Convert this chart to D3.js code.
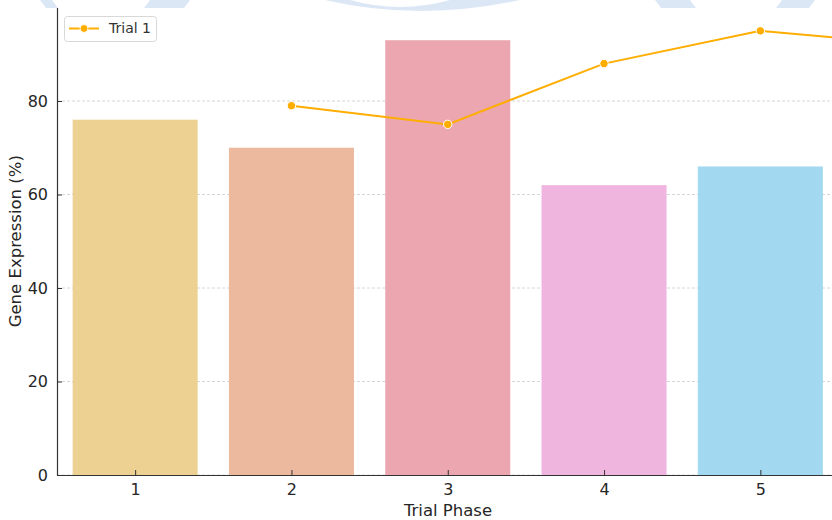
<!DOCTYPE html>
<html>
<head>
<meta charset="utf-8">
<script src="https://cdn.jsdelivr.net/npm/d3@7"></script>
<style>
  body { margin: 0; background: #fff; }
  svg { display: block; font-family: "DejaVu Sans", sans-serif; }
</style>
</head>
<body>
<script>
const WIDTH = 832;
const HEIGHT = 520;

// data
var phases = [1, 2, 3, 4, 5];
var barValues = [76, 70, 93, 62, 66];
var barColors = ['#ecd08f', '#ebb69b', '#eaa3ad', '#f0b3dd', '#a0d8ef'];
var linePhases = [2, 3, 4, 5, 6];
var lineValues = [79, 75, 88, 95, 92];
var yTicks = [0, 20, 40, 60, 80];

var svg = d3.select('body').append('svg')
    .attr('width', WIDTH)
    .attr('height', HEIGHT);

var xScale = d3.scaleLinear()
    .domain([0.5, 5.5])
    .range([57, 838.5]);
var yScale = d3.scaleLinear()
    .domain([0, 100])
    .range([475, 7.5]);

// faint watermark strip cut off at the top
var wm = svg.append('g').attr('fill', '#dce7f6');
[[40, 52], [150, 190], [655, 690], [782, 815]].forEach(function (p, i) {
    var dx = i % 2 ? -6 : 6;
    wm.append('path')
        .attr('d', 'M' + p[0] + ',0 L' + (p[1]) + ',0 L' + (p[1] + dx) + ',8 L' + (p[0] + dx) + ',8 Z');
});
wm.append('path')
    .attr('d', 'M325,0 L350,0 Q400,14 450,0 L520,0 Q420,22 325,0 Z');

// grid
svg.append('g')
    .selectAll('line')
    .data(yTicks)
    .enter()
    .append('line')
    .attr('x1', 57)
    .attr('x2', WIDTH)
    .attr('y1', function (d) { return yScale(d); })
    .attr('y2', function (d) { return yScale(d); })
    .attr('stroke', '#cccccc')
    .attr('stroke-width', 0.8)
    .attr('stroke-dasharray', '3,2');

// bars
svg.append('g')
    .selectAll('rect')
    .data(phases)
    .enter()
    .append('rect')
    .attr('x', function (d) { return xScale(d - 0.4); })
    .attr('width', xScale(0.8) - xScale(0))
    .attr('y', function (d, i) { return yScale(barValues[i]); })
    .attr('height', function (d, i) { return yScale(0) - yScale(barValues[i]); })
    .attr('fill', function (d, i) { return barColors[i]; })
    .attr('opacity', 0.97);

// axes
var xAxis = d3.axisBottom(xScale).tickValues(phases).tickFormat(d3.format('d'))
    .tickSizeInner(-5).tickSizeOuter(0).tickPadding(9);
var yAxis = d3.axisLeft(yScale).tickValues(yTicks)
    .tickSizeInner(-5).tickSizeOuter(0).tickPadding(9);

var gx = svg.append('g')
    .attr('transform', 'translate(0,' + yScale(0) + ')')
    .call(xAxis);
var gy = svg.append('g')
    .attr('transform', 'translate(57,0)')
    .call(yAxis);
[gx, gy].forEach(function (g) {
    g.select('.domain').attr('stroke', '#333').attr('stroke-width', 1.2);
    g.selectAll('.tick line').attr('stroke', '#333');
    g.selectAll('text').attr('font-size', 16).attr('fill', '#262626')
        .attr('font-family', '"DejaVu Sans", sans-serif');
});

// line series
var line = d3.line()
    .x(function (d, i) { return xScale(linePhases[i]); })
    .y(function (d) { return yScale(d); });

svg.append('path')
    .attr('d', line(lineValues))
    .attr('fill', 'none')
    .attr('stroke', '#ffad00')
    .attr('stroke-width', 2);

svg.append('g')
    .selectAll('circle')
    .data(lineValues)
    .enter()
    .append('circle')
    .attr('cx', function (d, i) { return xScale(linePhases[i]); })
    .attr('cy', function (d) { return yScale(d); })
    .attr('r', 4.2)
    .attr('fill', '#ffad00')
    .attr('stroke', '#fff')
    .attr('stroke-width', 1);

// axis titles
svg.append('text')
    .attr('x', 448)
    .attr('y', 516)
    .attr('text-anchor', 'middle')
    .attr('font-size', 16.5)
    .attr('fill', '#262626')
    .text('Trial Phase');

svg.append('text')
    .attr('transform', 'translate(21,' + yScale(50) + ') rotate(-90)')
    .attr('text-anchor', 'middle')
    .attr('font-size', 16.5)
    .attr('fill', '#262626')
    .text('Gene Expression (%)');

// legend
var legend = svg.append('g');
legend.append('rect')
    .attr('x', 64.5)
    .attr('y', 16.5)
    .attr('width', 92)
    .attr('height', 25)
    .attr('rx', 3)
    .attr('fill', '#fff')
    .attr('stroke', '#d8d8d8');
legend.append('line')
    .attr('x1', 69).attr('x2', 99)
    .attr('y1', 28.5).attr('y2', 28.5)
    .attr('stroke', '#ffad00')
    .attr('stroke-width', 2);
legend.append('circle')
    .attr('cx', 84).attr('cy', 28.5).attr('r', 4)
    .attr('fill', '#ffad00')
    .attr('stroke', '#fff');
legend.append('text')
    .attr('x', 109)
    .attr('y', 33)
    .attr('font-size', 14)
    .attr('fill', '#333')
    .text('Trial 1');
</script>
</body>
</html>
